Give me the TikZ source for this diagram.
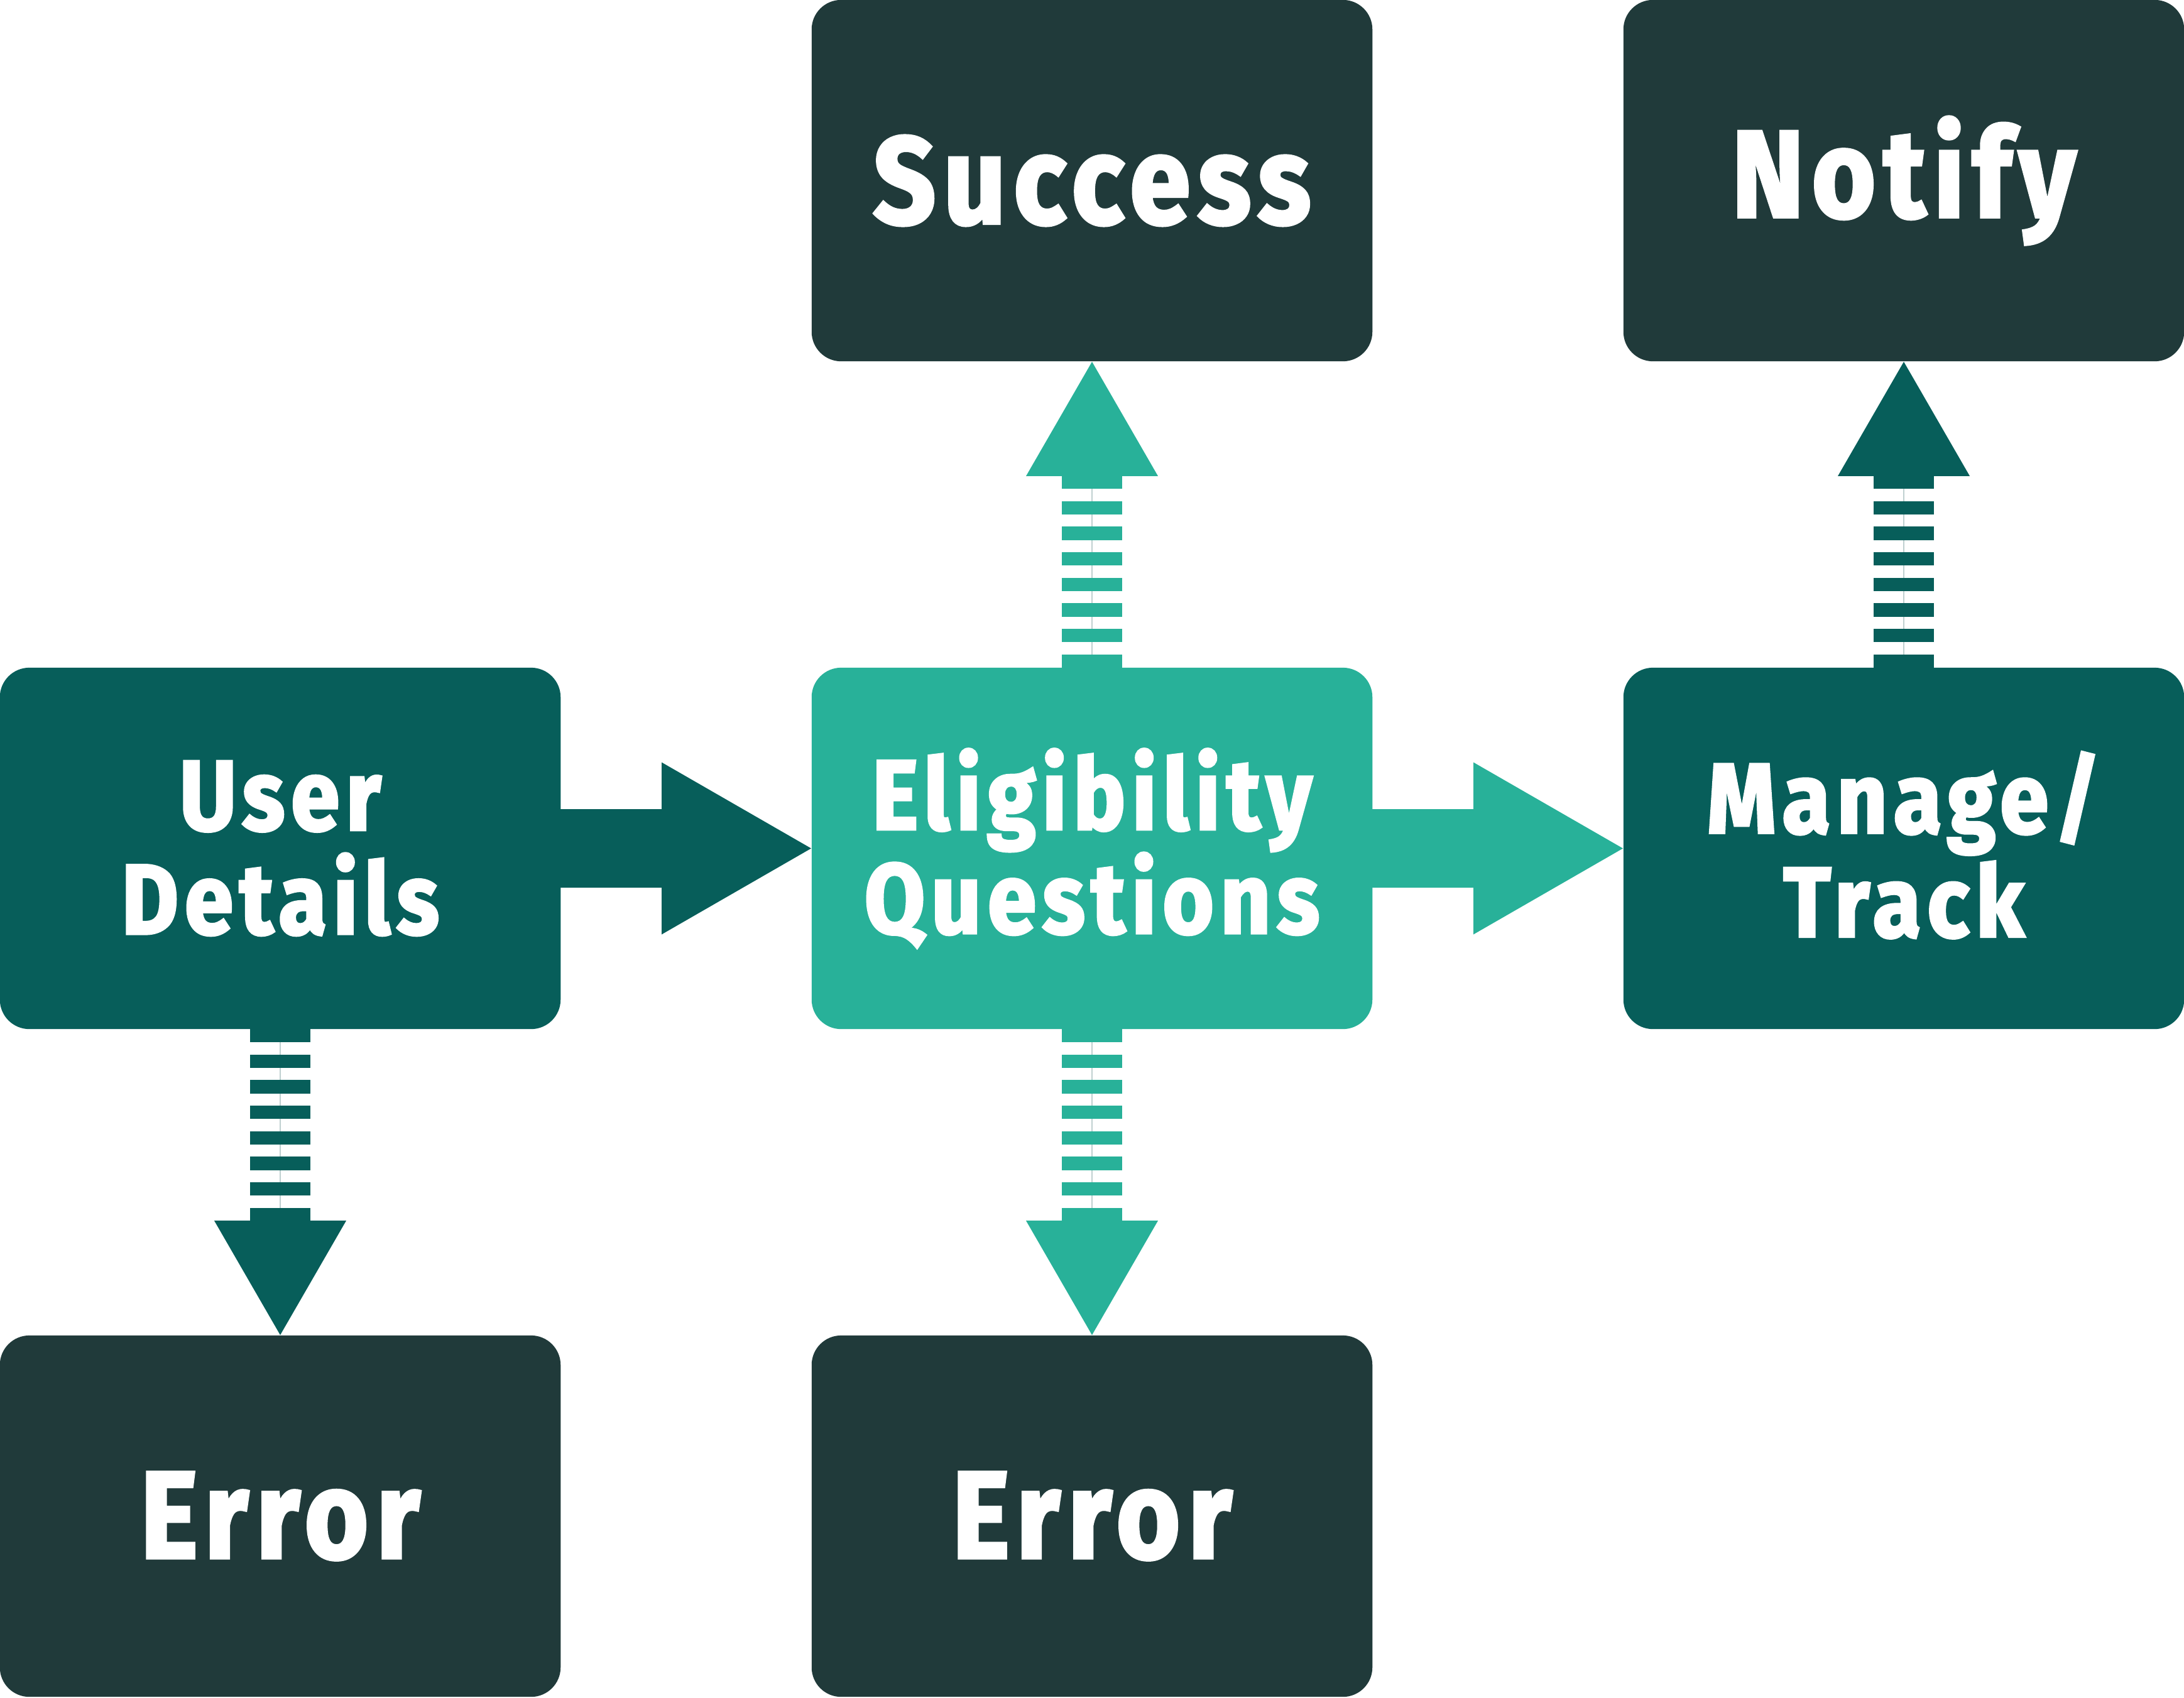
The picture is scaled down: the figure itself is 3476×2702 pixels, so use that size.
\documentclass[tikz,border=0pt]{standalone}
\usepackage{fontspec}
\newfontfamily\boxfont{Fira Sans}[FakeStretch=0.88, LetterSpace=6.5, FakeBold=2.5]
\usetikzlibrary{calc}
\definecolor{darkbox}{HTML}{203A3A}
\definecolor{midteal}{HTML}{075E5A}
\definecolor{lightteal}{HTML}{28B199}
\definecolor{ladderline}{HTML}{BFD0D0}
\tikzset{
  boxbase/.style={minimum width=8.92cm, minimum height=5.75cm, inner sep=0pt,
    rounded corners=0.47cm, text=white, align=center},
  smalltext/.style={font=\boxfont\bfseries\fontsize{45}{47}\selectfont},
  bigtext/.style={font=\boxfont\bfseries\fontsize{56}{60}\selectfont},
  centerline/.style={draw=ladderline, line width=0.35pt}
}
\newcommand\ladderdown[3]{%
  \draw[centerline] (#1) -- ($(#2)+(0,-182)$);
  \foreach \k in {0,...,7} {
    \fill[#3] ($(#1)+(-48,\k*40.7-1)$) rectangle ($(#1)+(48,\k*40.7+20.3)$);
  }
  \fill[#3] ($(#2)+(-105,-182)$) -- ($(#2)+(105,-182)$) -- (#2) -- cycle;
}
\newcommand\ladderup[3]{%
  \draw[centerline] (#1) -- ($(#2)+(0,182)$);
  \foreach \k in {0,...,7} {
    \fill[#3] ($(#1)+(-48,-\k*40.7+1)$) rectangle ($(#1)+(48,-\k*40.7-20.3)$);
  }
  \fill[#3] ($(#2)+(-105,182)$) -- ($(#2)+(105,182)$) -- (#2) -- cycle;
}
\newcommand\bigarrow[3]{%
  \fill[#3] ($(#1)+(-2,-62.5)$) -- ($(#2)+(-238,-62.5)$) -- ($(#2)+(-238,-137)$)
    -- (#2) -- ($(#2)+(-238,137)$) -- ($(#2)+(-238,62.5)$) -- ($(#1)+(-2,62.5)$) -- cycle;
}
\begin{document}
\begin{tikzpicture}[x=0.01cm, y=-0.01cm]
\useasboundingbox (0,0) rectangle (3476,2702);
\node[boxbase, bigtext, fill=darkbox] (succ) at (1738,287.5) {Success};
\node[boxbase, bigtext, fill=darkbox] (notif) at (3030,287.5) {Notify};
\node[boxbase, smalltext, fill=midteal] (ud) at (446,1350.5) {User\\Details};
\node[boxbase, smalltext, fill=lightteal] (eq) at (1738,1350.5) {Eligibility\\Questions};
\node[boxbase, smalltext, fill=midteal] (mt) at (3030,1350.5) {\raisebox{13\dimexpr0.01cm\relax}{Manage/}\\\raisebox{13\dimexpr0.01cm\relax}{Track}};
\node[boxbase, bigtext, fill=darkbox] (err1) at (446,2413.5) {Error};
\node[boxbase, bigtext, fill=darkbox] (err2) at (1738,2413.5) {Error};
\bigarrow{ud.east}{eq.west}{midteal}
\bigarrow{eq.east}{mt.west}{lightteal}
\ladderup{eq.north}{succ.south}{lightteal}
\ladderup{mt.north}{notif.south}{midteal}
\ladderdown{ud.south}{err1.north}{midteal}
\ladderdown{eq.south}{err2.north}{lightteal}
\end{tikzpicture}
\end{document}
